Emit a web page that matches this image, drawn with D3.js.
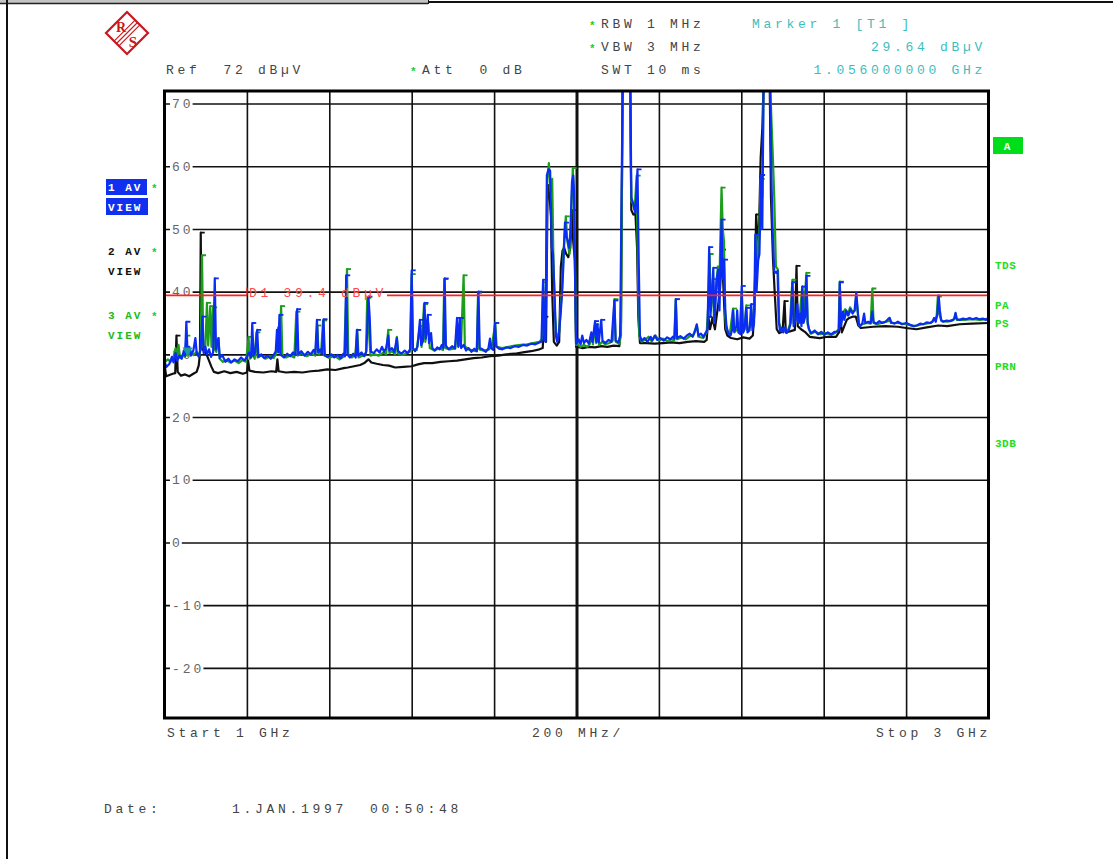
<!DOCTYPE html>
<html>
<head>
<meta charset="utf-8">
<script src="https://cdn.jsdelivr.net/npm/d3@7"></script>
<style>
  body { margin: 0; background: #fff; }
  svg text { font-family: "Liberation Mono", "Courier New", monospace; white-space: pre; }
  .hdr { font-size: 13px; letter-spacing: 3.7px; fill: #444; }
  .cyan { fill: #3dbdbd; }
  .side { font-size: 11px; font-weight: bold; letter-spacing: 2px; }
</style>
</head>
<body>
<div id="chart"></div>
<script>
// frequency in MHz, level in dBµV
var trace1 = [ // blue, "1 AV"
  [1000,28.8],[1005,28],[1012,28.5],[1018,29.6],[1022,28.7],[1027,30.2],[1031,29],[1036,29.8],[1042,29.3],[1047,30.6],
  [1050,29.8],[1053,35.2],[1056,30.2],[1060,31.2],[1064,29.8],[1070,30.6],[1075,32.6],[1078,30.3],[1083,29.6],[1088,31],
  [1092,36],[1095,30.2],[1099,31.2],[1103,30],[1108,30.8],[1113,29.6],[1118,30.3],[1122,42.1],[1125,30.8],[1131,32.6],
  [1134,29.4],[1140,29.9],[1148,28.8],[1155,29.3],[1162,28.7],[1170,29.2],[1178,28.9],[1186,29.5],[1194,29],[1200,29.6],
  [1205,30.3],[1210,29.5],[1213,35],[1216,29.8],[1220,30.3],[1225,33.9],[1228,29.6],[1235,30],[1242,29.4],[1250,29.8],
  [1258,29.3],[1265,29.9],[1270,30.5],[1273,33.9],[1276,30.3],[1279,36.3],[1282,29.9],[1290,29.5],[1298,30.1],[1305,29.7],
  [1312,30.3],[1318,29.9],[1322,37.2],[1325,30],[1332,30.5],[1340,29.8],[1348,30.4],[1355,30],[1362,30.7],[1366,30.1],
  [1370,35.5],[1373,30.3],[1378,30.8],[1382,30.1],[1386,35.6],[1389,29.9],[1396,29.6],[1405,30],[1412,29.5],[1420,29.9],
  [1428,29.4],[1434,30.1],[1438,29.7],[1441,42.6],[1444,30],[1450,29.5],[1458,30.1],[1464,29.5],[1467,33.9],[1470,29.8],
  [1478,30.3],[1485,29.7],[1490,30.5],[1495,39.2],[1498,36],[1501,30.4],[1508,30.2],[1515,30.8],[1522,30.3],[1528,31.2],
  [1533,30.4],[1538,31],[1543,33],[1546,30.6],[1552,31],[1558,30.4],[1564,32.6],[1567,30.5],[1575,30.1],[1583,30.6],
  [1590,30.2],[1596,30.8],[1600,43.4],[1603,31],[1608,30.5],[1614,31.2],[1620,35.5],[1623,31.5],[1627,32],[1631,38.2],
  [1634,32.5],[1639,36.3],[1642,31.8],[1647,33.4],[1650,31],[1656,30.6],[1662,31.1],[1668,30.8],[1673,31.5],[1677,31],
  [1680,42.1],[1683,31.4],[1690,30.8],[1698,31.3],[1705,30.9],[1710,35.8],[1713,31.2],[1717,35.8],[1720,31],[1726,31.5],
  [1732,30.6],[1738,31],[1745,30.4],[1752,30.9],[1758,30.5],[1762,40],[1765,31],[1772,30.8],[1780,30.4],[1786,30.9],
  [1790,32.5],[1793,31],[1798,30.7],[1802,35],[1805,31.3],[1812,30.9],[1820,30.8],[1830,31.1],[1840,31],[1850,31.3],
  [1860,31.2],[1870,31.5],[1880,31.4],[1890,31.7],[1900,31.6],[1910,31.9],[1915,32],[1919,41.9],[1922,32.3],[1925,32],
  [1928,58.5],[1932,59.5],[1936,59.3],[1940,47],[1943,46],[1947,39],[1950,33],[1953,32],[1957,33],[1961,36],
  [1965,39.7],[1968,44],[1972,51],[1975,49],[1979,48],[1982,47],[1985,49],[1989,57.5],[1992,58.5],[1994,56],
  [1997,40],[1999,31.7],[2001,31.8],[2005,32.4],[2010,31.6],[2014,33],[2018,31.8],[2024,32.3],[2030,31.7],[2036,33.5],
  [2039,32],[2045,35.3],[2048,32],[2051,34.8],[2054,31.9],[2060,35.5],[2063,32.2],[2070,31.8],[2078,32.3],[2085,32],
  [2092,38.6],[2095,32.2],[2102,31.9],[2106,33],[2112,73],[2131,73],[2133,55],[2138,54],[2143,52.5],[2148,59.5],
  [2151,45],[2154,33],[2158,32.2],[2165,32.6],[2172,32],[2180,32.8],[2184,32.2],[2190,33],[2196,32.3],[2204,32.6],
  [2212,32.2],[2220,32.7],[2228,32.4],[2234,32.8],[2238,32.5],[2241,38.8],[2244,32.6],[2252,32.9],[2260,32.5],[2268,33],
  [2275,33.3],[2282,32.8],[2288,33.8],[2292,34.7],[2296,33],[2302,33.3],[2308,32.8],[2314,33.5],[2318,34],[2322,47.1],
  [2325,36],[2329,40],[2332,43.8],[2335,35],[2340,42],[2344,43.5],[2347,37],[2352,51.5],[2355,42],[2358,45.1],
  [2361,37],[2364,34.5],[2368,33.4],[2374,33],[2378,34],[2380,37],[2383,33.6],[2388,34.5],[2390,37],[2393,33.5],
  [2398,33.2],[2401,40.9],[2404,33.5],[2408,34],[2412,37.4],[2415,33.5],[2420,33.8],[2424,38],[2427,33.8],[2431,35],
  [2434,49.1],[2437,40],[2441,45],[2444,46],[2448,58.6],[2451,50],[2454,73],[2470,73],[2473,58.6],[2476,50],
  [2480,43.3],[2484,43],[2488,43.3],[2491,35.3],[2494,33.7],[2498,34.2],[2502,33.5],[2506,34.3],[2510,33.4],[2516,34],
  [2520,35],[2524,41.5],[2527,34.5],[2532,35.5],[2536,38],[2539,35],[2543,36.5],[2546,34.5],[2548,40.8],[2551,35],
  [2555,36],[2558,42.5],[2561,35.2],[2564,34],[2570,33.4],[2578,33.8],[2586,33.2],[2594,33.6],[2602,33.1],[2610,33.5],
  [2618,33.2],[2626,33.6],[2633,33.6],[2637,34],[2639,41.5],[2642,34.5],[2647,36.8],[2650,35.5],[2655,37],[2660,36.2],
  [2665,37.2],[2670,36.5],[2675,37],[2679,39.8],[2682,37.5],[2685,35],[2688,34.4],[2694,35],[2698,36.5],[2701,35],
  [2708,35.2],[2714,35],[2718,36.8],[2721,35.1],[2728,34.9],[2735,35.3],[2742,35],[2750,35.2],[2756,35.6],[2760,35.8],
  [2764,35.1],[2772,34.9],[2780,35.2],[2790,34.8],[2800,35],[2810,34.7],[2818,34.5],[2826,34.6],[2834,34.9],[2842,34.8],
  [2850,35.1],[2858,35],[2864,35.2],[2868,35.8],[2872,35.2],[2876,36.5],[2879,39.4],[2882,37],[2885,35.5],[2890,35.2],
  [2898,35.4],[2906,35.3],[2914,35.5],[2918,35.8],[2920,36.6],[2923,35.6],[2930,35.5],[2938,35.7],[2946,35.6],[2954,35.8],
  [2962,35.6],[2970,35.8],[2978,35.6],[2986,35.7],[2994,35.5],[3000,35.8]
];

var trace2 = [ // black, "2 AV"
  [1000,28.5],[1004,26.5],[1012,26.7],[1020,26.9],[1026,27],[1029,33],[1032,27.2],[1040,26.6],[1050,26.8],[1060,26.5],
  [1070,26.9],[1078,27.2],[1083,28.2],[1086,30],[1088,49.4],[1090,31],[1096,30.5],[1102,30],[1108,29],[1114,28],
  [1120,27.2],[1130,27],[1145,27.3],[1160,27],[1175,27.2],[1190,26.9],[1200,27.1],[1203,29],[1206,27.4],[1220,27.2],
  [1240,27.1],[1260,27.3],[1271,27.2],[1274,29.2],[1277,27.3],[1295,27.1],[1315,27.2],[1335,27.1],[1355,27.3],[1375,27.4],
  [1395,27.6],[1415,27.5],[1435,27.8],[1445,27.9],[1460,28.1],[1475,28.3],[1485,28.6],[1495,29.2],[1502,28.7],[1515,28.5],
  [1530,28.3],[1545,28.2],[1560,27.9],[1580,28],[1600,28.1],[1615,28.4],[1630,28.6],[1650,28.6],[1670,28.8],[1690,28.9],
  [1710,29],[1730,29.2],[1750,29.4],[1770,29.5],[1790,29.7],[1810,29.8],[1830,30],[1850,30.1],[1870,30.3],[1890,30.5],
  [1910,30.8],[1918,31],[1922,36],[1926,32],[1930,57],[1934,56],[1938,52],[1941,40],[1945,32],[1952,31.4],
  [1958,32],[1962,44],[1966,46.5],[1970,47],[1975,46],[1980,45.5],[1985,47],[1989,53],[1992,48],[1996,45],
  [1999,31.2],[2003,31.2],[2015,31],[2030,31.2],[2045,31.1],[2060,31.3],[2075,31.2],[2090,31.4],[2104,31.3],[2108,35],
  [2112,73],[2130,73],[2133,53],[2138,52.3],[2143,52.5],[2147,47],[2150,36],[2154,31.8],[2170,31.8],[2190,31.7],
  [2210,31.8],[2230,31.9],[2250,31.8],[2270,32],[2290,32.1],[2310,32],[2316,32.3],[2320,36],[2324,34],[2330,35.8],
  [2336,34],[2342,37],[2348,40],[2353,46.7],[2357,40],[2361,34],[2366,33],[2375,32.6],[2390,32.4],[2405,32.7],
  [2420,32.5],[2428,33],[2432,37],[2436,52.3],[2440,48],[2443,50],[2447,61.3],[2451,66],[2454,73],[2469,73],
  [2472,55],[2477,45],[2481,40],[2486,34],[2492,33.4],[2500,33.6],[2505,38.5],[2508,33.5],[2520,33.7],[2530,33.9],
  [2534,44.1],[2537,34.5],[2545,34],[2556,33.5],[2566,32.8],[2590,32.6],[2610,32.8],[2630,32.8],[2637,33.5],[2640,36],
  [2644,33.5],[2650,34.5],[2656,35.5],[2662,35.8],[2670,36],[2678,36],[2684,34.6],[2690,34.2],[2720,34.4],[2750,34.5],
  [2780,34.4],[2800,34.2],[2825,34],[2850,34.3],[2878,34.6],[2900,34.5],[2930,34.8],[2960,34.9],[3000,35]
];

var trace3 = [ // green, "3 AV"
  [1000,28.7],[1008,29.2],[1015,28.8],[1022,29.6],[1027,31],[1030,29.2],[1034,31.5],[1038,29.4],[1045,30],[1050,29.6],
  [1053,33],[1056,29.8],[1063,30.6],[1070,29.9],[1078,30.4],[1084,29.7],[1088,30.9],[1091,45.8],[1094,31.4],[1099,30.9],
  [1103,38.2],[1106,31.4],[1111,37.7],[1114,31.2],[1118,37.5],[1121,30.9],[1126,30.4],[1131,32.6],[1134,29.3],[1142,28.8],
  [1150,29.1],[1160,28.7],[1170,29],[1180,28.6],[1190,29.1],[1198,28.8],[1204,32.8],[1207,29.3],[1214,29.9],[1219,29.3],
  [1223,33.5],[1226,29.5],[1235,29.8],[1245,29.3],[1255,29.7],[1265,29.4],[1271,30.1],[1276,34.3],[1279,30.3],[1283,37.7],
  [1286,29.9],[1295,29.5],[1305,29.8],[1315,29.5],[1320,36.8],[1323,29.8],[1332,30.2],[1345,29.7],[1358,30.1],[1366,29.8],
  [1371,34.6],[1374,30],[1380,30.3],[1385,35.4],[1388,29.8],[1400,29.4],[1412,29.8],[1425,29.2],[1436,29.7],[1443,43.6],
  [1446,29.9],[1455,29.5],[1463,29.9],[1468,33.9],[1471,29.5],[1482,29.8],[1489,30.2],[1492,39],[1496,34],[1500,29.8],
  [1510,30],[1520,29.8],[1532,30.3],[1538,30],[1543,33.9],[1546,30.2],[1552,30.5],[1560,30],[1564,32.8],[1567,30.1],
  [1578,29.9],[1590,30.2],[1597,30.5],[1600,42.8],[1603,30.8],[1612,30.7],[1620,34.5],[1624,31.2],[1630,38],[1633,32],
  [1640,35],[1644,31],[1655,30.6],[1668,31],[1676,30.7],[1679,42],[1682,31],[1694,30.8],[1706,31],[1710,34.5],
  [1715,31.4],[1720,32],[1726,42.6],[1729,31.3],[1738,30.8],[1750,30.6],[1758,30.5],[1761,39.8],[1764,30.8],[1775,30.6],
  [1788,30.8],[1795,31.5],[1803,35],[1806,31.2],[1820,31],[1835,31.2],[1850,31.4],[1865,31.5],[1880,31.6],[1895,31.8],
  [1910,32],[1916,32.4],[1919,41.5],[1922,33],[1926,40],[1929,58],[1933,60.5],[1937,56],[1941,58],[1944,45],
  [1948,36],[1952,32.5],[1958,33.5],[1962,38],[1965,40.5],[1969,47],[1974,52],[1978,48],[1983,46],[1987,52],
  [1991,59.7],[1994,55],[1997,42],[1999,31.5],[2002,31.6],[2010,31.2],[2018,31.5],[2026,31.2],[2032,31.6],[2036,33],
  [2040,31.6],[2045,34.8],[2048,31.8],[2052,34],[2055,31.5],[2062,32],[2070,31.6],[2080,31.8],[2088,32.2],[2092,38.8],
  [2095,32],[2104,31.7],[2108,33],[2112,73],[2130,73],[2133,54.5],[2137,54],[2141,53],[2146,58.5],[2149,44],
  [2152,33],[2158,32],[2166,32.3],[2175,32.8],[2182,32.1],[2192,33],[2200,32.2],[2210,32.5],[2220,32.1],[2230,32.4],
  [2237,32.2],[2241,38.8],[2244,32.4],[2255,32.7],[2265,32.4],[2275,32.9],[2285,33.2],[2292,34.8],[2296,32.8],[2308,32.6],
  [2316,33.5],[2320,38],[2323,46],[2326,37],[2331,42],[2334,35],[2338,40],[2343,44],[2346,38],[2349,48],
  [2352,56.6],[2355,50],[2358,48],[2361,36],[2364,34],[2372,33.2],[2380,37.3],[2383,33.5],[2390,34],[2396,33.6],
  [2401,40],[2404,33.4],[2408,34.2],[2412,37.8],[2415,33.8],[2422,34.5],[2428,36],[2432,38],[2436,49],[2440,45],
  [2444,50],[2447,58],[2451,55],[2454,73],[2470,73],[2474,66],[2477,60.8],[2480,55],[2484,44],[2489,43.5],
  [2492,35],[2497,33.8],[2505,34],[2512,33.6],[2518,34.8],[2524,41.9],[2527,35],[2534,36],[2540,35],[2548,40.8],
  [2551,35.5],[2558,43],[2561,34.8],[2568,33.3],[2580,33.6],[2592,33.2],[2605,33.4],[2618,33.1],[2630,33.5],[2636,34],
  [2639,41.6],[2642,35],[2647,36.5],[2652,37.2],[2658,36.2],[2664,37.5],[2670,36.8],[2676,37],[2679,39.6],[2682,37],
  [2686,34.6],[2694,34.8],[2705,35],[2714,34.9],[2718,40.5],[2721,35],[2730,34.8],[2745,35.1],[2757,35.3],[2760,35.8],
  [2763,35],[2780,35],[2800,34.8],[2820,34.5],[2840,34.8],[2860,35],[2874,36],[2877,39.2],[2880,36.5],[2886,35.3],
  [2900,35.2],[2915,35.5],[2920,36.5],[2923,35.5],[2940,35.5],[2960,35.6],[2980,35.5],[3000,35.7]
];

var freqDomain = [1000, 3000];      // Start 1 GHz / Stop 3 GHz
var freqGrid = [1200, 1400, 1600, 1800, 2000, 2200, 2400, 2600, 2800];
var levelDomain = [-28, 72];        // Ref 72 dBµV, 10 dB/div
var levelTicks = [70, 60, 50, 40, 30, 20, 10, 0, -10, -20];
var displayLine = 39.4;             // D1
var marker = [1056, 29.64];         // Marker 1 [T1]

var svg = d3.select("#chart").append("svg")
  .attr("width", 1113).attr("height", 859);

var x = d3.scaleLinear().domain(freqDomain).range([164.5, 988.5]),
    y = d3.scaleLinear().domain(levelDomain).range([718, 91]);

// window frame remains
svg.append("rect").attr("x", 0).attr("y", 0).attr("width", 428).attr("height", 3).attr("fill", "#c4c4c4");
svg.append("line").attr("x1", 0).attr("x2", 428).attr("y1", 3.5).attr("y2", 3.5).attr("stroke", "#222").attr("stroke-width", 1.5);
svg.append("line").attr("x1", 428).attr("x2", 1113).attr("y1", 2).attr("y2", 2).attr("stroke", "#111").attr("stroke-width", 2);
svg.append("line").attr("x1", 428.5).attr("x2", 428.5).attr("y1", 0).attr("y2", 4).attr("stroke", "#111");
svg.append("line").attr("x1", 7).attr("x2", 7).attr("y1", 0).attr("y2", 859).attr("stroke", "#111").attr("stroke-width", 2);

// R&S logo
var logo = svg.append("g").attr("transform", "translate(127,33)").attr("stroke", "#c8171d").attr("fill", "none");
logo.append("path").attr("d", "M0,-21L21,0L0,21L-21,0Z").attr("stroke-width", 2.2);
[-2.4, 0, 2.4].forEach(function(o) {
  logo.append("line").attr("x1", -10.5 + o).attr("y1", 10.5 + o).attr("x2", 10.5 + o).attr("y2", -10.5 + o).attr("stroke-width", 1.1);
});
logo.append("text").attr("x", -6).attr("y", -1).attr("text-anchor", "middle").attr("fill", "#c8171d").attr("stroke", "none")
  .style("font", "bold 14px 'Liberation Serif', serif").text("R");
logo.append("text").attr("x", 6).attr("y", 14).attr("text-anchor", "middle").attr("fill", "#c8171d").attr("stroke", "none")
  .style("font", "bold 15px 'Liberation Serif', serif").text("S");

// header
function star(px, py) {
  svg.append("text").attr("x", px).attr("y", py).attr("fill", "#22cc22")
    .style("font-size", "11px").style("font-weight", "bold").text("*");
}
function hdr(px, py, s, cls, anchor) {
  return svg.append("text").attr("class", "hdr " + (cls || "")).attr("x", px).attr("y", py)
    .attr("text-anchor", anchor || "start").text(s);
}
star(589, 29); hdr(601, 28, "RBW 1 MHz");
star(589, 52); hdr(601, 51, "VBW 3 MHz");
hdr(601, 74, "SWT 10 ms");
hdr(752, 28, "Marker 1 [T1 ]", "cyan");
hdr(986, 51, "29.64 dBµV", "cyan", "end");
hdr(986, 74, "1.056000000 GHz", "cyan", "end");
hdr(166, 74, "Ref  72 dBµV");
star(410, 75); hdr(422, 74, "Att  0 dB");

// grid via axes
var plotW = x.range()[1] - x.range()[0], plotH = y.range()[0] - y.range()[1];
var gx = svg.append("g").attr("transform", "translate(0," + y.range()[0] + ")")
  .call(d3.axisBottom(x).tickValues(freqGrid).tickSize(-plotH).tickFormat(""));
gx.select(".domain").remove();
gx.selectAll(".tick line").attr("stroke", "#111")
  .attr("stroke-width", function(d) { return d === 2000 ? 3 : 1.6; });

var gy = svg.append("g").attr("transform", "translate(" + x.range()[0] + ",0)")
  .call(d3.axisLeft(y).tickValues(levelTicks).tickSize(-plotW).tickFormat(""));
gy.select(".domain").remove();
gy.selectAll(".tick line").attr("stroke", "#111").attr("stroke-width", 1.6);

var lab = svg.append("g").selectAll("g").data(levelTicks).enter().append("g")
  .attr("transform", function(d) { return "translate(172," + y(d) + ")"; });
lab.append("text").attr("dy", "0.36em").attr("fill", "#666")
  .style("font-size", "13px").style("letter-spacing", "3px")
  .text(function(d) { return d; })
  .each(function() {
    var w = this.getComputedTextLength();
    d3.select(this.parentNode).insert("rect", "text")
      .attr("x", -2).attr("y", -3).attr("width", w + 1).attr("height", 6).attr("fill", "#fff");
  });

// traces
svg.append("clipPath").attr("id", "plot").append("rect")
  .attr("x", x.range()[0]).attr("y", y.range()[1]).attr("width", plotW).attr("height", plotH);

var line = d3.line().x(function(d) { return x(d[0]); }).y(function(d) { return y(d[1]); });
var traces = [
  {data: trace2, color: "#101010"},
  {data: trace3, color: "#1c9e1c"},
  {data: trace1, color: "#0b2cf2"}
];
var tg = svg.append("g").attr("clip-path", "url(#plot)");
traces.forEach(function(t) {
  tg.append("path").datum(t.data).attr("d", line).attr("fill", "none")
    .attr("stroke", t.color).attr("stroke-width", 2.2).attr("stroke-linejoin", "round");
  // small peak flags like the analyzer printout
  var peaks = t.data.filter(function(d, i, a) {
    return i > 0 && i < a.length - 1 && d[1] - a[i - 1][1] > 3 && d[1] >= a[i + 1][1] && d[1] < 72;
  });
  tg.selectAll(null).data(peaks).enter().append("line")
    .attr("x1", function(d) { return x(d[0]); }).attr("x2", function(d) { return x(d[0]) + 4; })
    .attr("y1", function(d) { return y(d[1]); }).attr("y2", function(d) { return y(d[1]); })
    .attr("stroke", t.color).attr("stroke-width", 1.8);
});

// display line D1
var d1y = y(displayLine);
var d1t = svg.append("text").attr("x", 249).attr("y", d1y + 2).attr("fill", "#ff4a4a")
  .style("font-size", "13px").style("letter-spacing", "3.7px").text("D1 39.4 dBµV");
var d1end = 249 + d1t.node().getComputedTextLength();
svg.append("line").attr("x1", x.range()[0]).attr("x2", 247).attr("y1", d1y).attr("y2", d1y)
  .attr("stroke", "#ff2020").attr("stroke-width", 1.6);
svg.append("line").attr("x1", 247).attr("x2", 247).attr("y1", d1y).attr("y2", d1y - 8)
  .attr("stroke", "#ff2020").attr("stroke-width", 1.2);
svg.append("line").attr("x1", d1end).attr("x2", x.range()[1]).attr("y1", d1y).attr("y2", d1y)
  .attr("stroke", "#ff2020").attr("stroke-width", 1.6);

// marker triangle
var mx = x(marker[0]), my = y(marker[1]);
svg.append("path").attr("d", "M" + (mx - 5) + "," + (my - 9) + "L" + (mx + 5) + "," + (my - 9) + "L" + mx + "," + my + "Z")
  .attr("fill", "#1f9a9a");

// frame
svg.append("rect").attr("x", x.range()[0]).attr("y", y.range()[1]).attr("width", plotW).attr("height", plotH)
  .attr("fill", "none").attr("stroke", "#000").attr("stroke-width", 3);

// left trace labels
var leftLabels = [
  {t: "1 AV", v: "VIEW", y: 191, fill: "#fff", bg: "#1030f0"},
  {t: "2 AV", v: "VIEW", y: 255, fill: "#111", bg: null},
  {t: "3 AV", v: "VIEW", y: 319, fill: "#22bb22", bg: null}
];
leftLabels.forEach(function(l) {
  if (l.bg) {
    svg.append("rect").attr("x", 106).attr("y", l.y - 12).attr("width", 41).attr("height", 16).attr("fill", l.bg);
    svg.append("rect").attr("x", 106).attr("y", l.y + 7).attr("width", 42).attr("height", 17).attr("fill", l.bg);
  }
  svg.append("text").attr("class", "side").attr("x", 108).attr("y", l.y).attr("fill", l.fill).text(l.t);
  svg.append("text").attr("class", "side").attr("x", 108).attr("y", l.y + 20).attr("fill", l.fill).text(l.v);
  star(151, l.y + 1);
});

// right status labels
svg.append("rect").attr("x", 993).attr("y", 137).attr("width", 30).attr("height", 17).attr("fill", "#00dd1a");
svg.append("text").attr("class", "side").attr("x", 1008).attr("y", 150).attr("text-anchor", "middle").attr("fill", "#fff").text("A");
[["TDS", 269], ["PA", 309], ["PS", 327], ["PRN", 370], ["3DB", 447]].forEach(function(r) {
  svg.append("text").attr("class", "side").attr("x", 995).attr("y", r[1]).attr("fill", "#22dd22")
    .style("letter-spacing", "0.5px").text(r[0]);
});

// bottom
svg.append("text").attr("class", "hdr").attr("x", 167).attr("y", 737).text("Start 1 GHz");
svg.append("text").attr("class", "hdr").attr("x", 578).attr("y", 737).attr("text-anchor", "middle").text("200 MHz/");
svg.append("text").attr("class", "hdr").attr("x", 991).attr("y", 737).attr("text-anchor", "end").text("Stop 3 GHz");
svg.append("text").attr("class", "hdr").attr("x", 104).attr("y", 813).text("Date:");
svg.append("text").attr("class", "hdr").attr("x", 232).attr("y", 813).text("1.JAN.1997");
svg.append("text").attr("class", "hdr").attr("x", 370).attr("y", 813).text("00:50:48");
</script>
</body>
</html>
